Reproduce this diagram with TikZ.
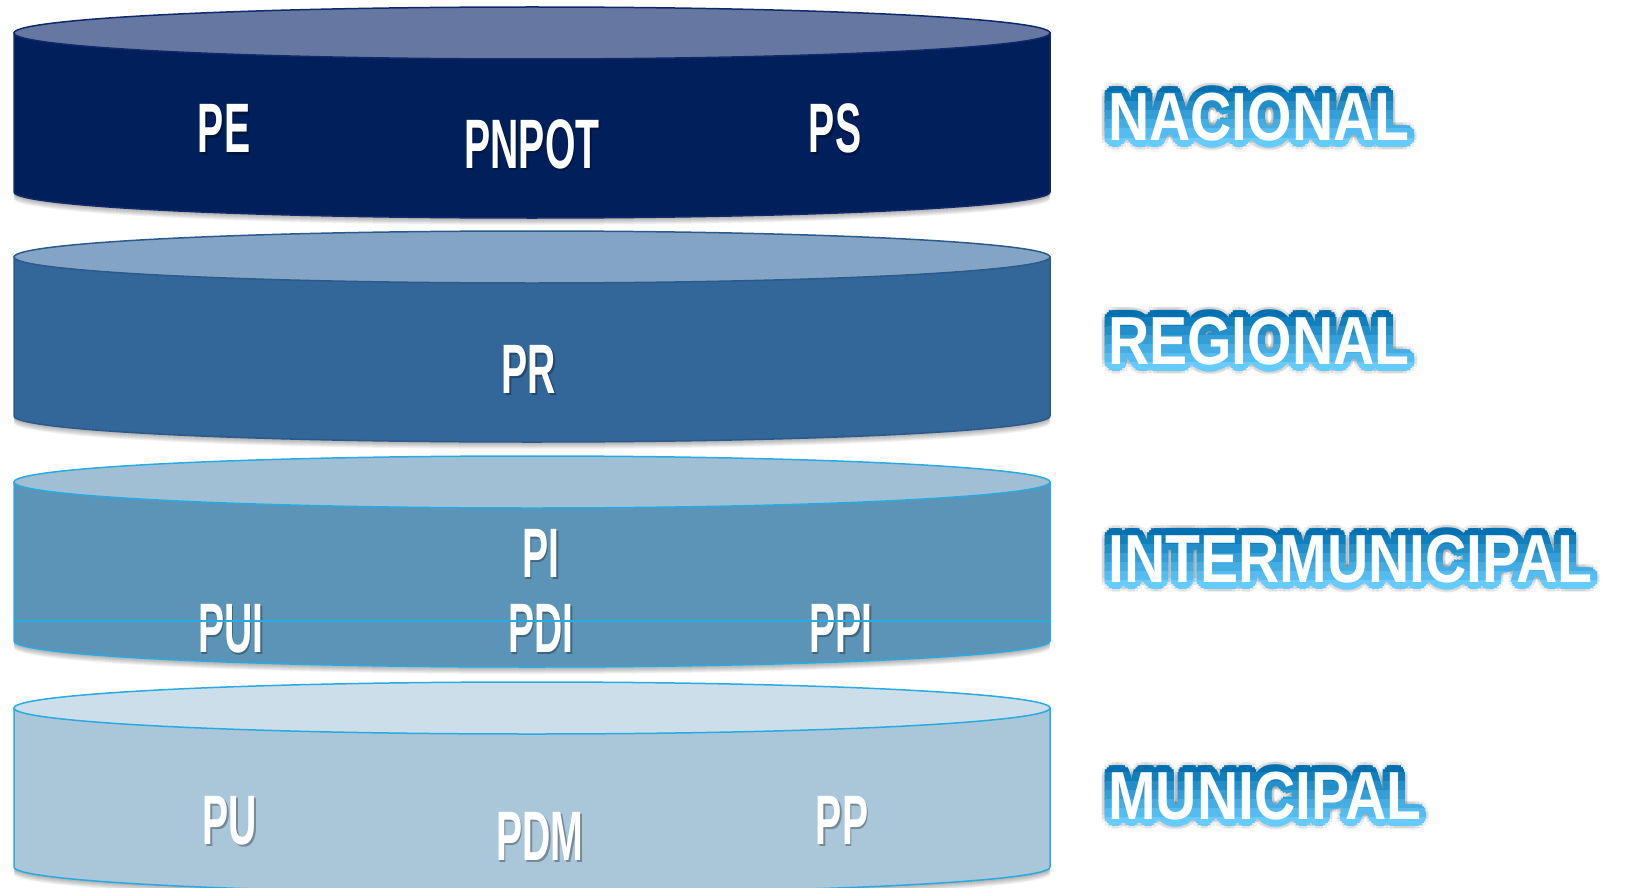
\documentclass[tikz,border=0pt]{standalone}
\usepackage{fontspec}
\newfontfamily\planfont[FakeStretch=0.56]{Liberation Sans}
\newfontfamily\levelfont[FakeStretch=0.84]{Liberation Sans}

\definecolor{navyside}{HTML}{001F5B}
\definecolor{navytop}{HTML}{6678A1}
\definecolor{navyrim}{HTML}{10296A}
\definecolor{regside}{HTML}{336699}
\definecolor{regtop}{HTML}{84A4C5}
\definecolor{regrim}{HTML}{2B5B8C}
\definecolor{interside}{HTML}{5B94B6}
\definecolor{intertop}{HTML}{A0BFD5}
\definecolor{munside}{HTML}{AAC6D9}
\definecolor{muntop}{HTML}{CCDEE9}
\definecolor{cyanrim}{HTML}{29ABE2}
\definecolor{deepblue}{HTML}{0070B0}
\definecolor{lightcyan}{HTML}{66CCFF}

\begin{document}
\begin{tikzpicture}[x=1pt,y=1pt,
  plan/.style={text=white,inner sep=0pt,anchor=base,
    font=\planfont\bfseries\fontsize{70}{70}\selectfont},
  level/.style={inner sep=0pt,anchor=base west,
    font=\levelfont\bfseries\fontsize{68}{68}\selectfont}]

 \useasboundingbox (0,0) rectangle (1629,-888);
 \clip (0,0) rectangle (1629,-888);

 % the four layers
 \foreach \yt/\side/\top/\rim in {33/navyside/navytop/navyrim,
     257/regside/regtop/regrim, 482/interside/intertop/cyanrim,
     708/munside/muntop/cyanrim}{
   \pgfmathsetmacro{\yb}{\yt+159}
   \foreach \d in {1,...,7}
     \fill[black,opacity=0.05,yshift=-\d pt] (14,-\yt) -- (14,-\yb)
       arc[start angle=180,end angle=360,x radius=518,y radius=26] -- (1050,-\yt) -- cycle;
   \filldraw[fill=\side,draw=\rim,line width=1.5pt] (14,-\yt) -- (14,-\yb)
     arc[start angle=180,end angle=360,x radius=518,y radius=26] -- (1050,-\yt) -- cycle;
   \filldraw[fill=\top,draw=\rim,line width=1.5pt] (532,-\yt) ellipse[x radius=518,y radius=26];
 }

 % plans on each layer
 \foreach \name/\x/\y/\txt in {pe/224/153/PE, pnpot/532/168/PNPOT, ps/835/153/PS,
     pr/529/393/PR, pi/541/577/PI, pui/231/652/PUI, pdi/541/652/PDI, ppi/841/652/PPI,
     pu/230/844/PU, pdm/540/860/PDM, pp/842/844/PP}{
   \node[plan,text=black,opacity=0.3,xshift=1.5pt,yshift=-2pt] at (\x,-\y) {\txt};
   \node[plan] (\name) at (\x,-\y) {\txt};
 }

 \draw[cyanrim,line width=1.5pt] (14,-621) -- (1050,-621);

 % level names
 \foreach \name/\y/\txt in {nacional/140/NACIONAL, regional/364/REGIONAL,
     intermunicipal/582/INTERMUNICIPAL, municipal/819/MUNICIPAL}{
   \foreach \a in {0,22.5,...,337.5}
     \node[level,text=black,opacity=0.06,shift={(\a:10)}] at (1108,-\y) {\txt};
   \foreach \k [evaluate=\k as \pct using int(\k*100/6)] in {0,...,6}{
     \begin{scope}
       \clip (1080,-\y+56-9*\k) rectangle (1629,-\y+56-9*\k-9.5);
       \foreach \a in {0,22.5,...,337.5}
         \node[level,text=lightcyan!\pct!deepblue,shift={(\a:7)}] at (1108,-\y) {\txt};
     \end{scope}
   }
   \node[level,text=white] (\name) at (1108,-\y) {\txt};
 }

\end{tikzpicture}
\end{document}
